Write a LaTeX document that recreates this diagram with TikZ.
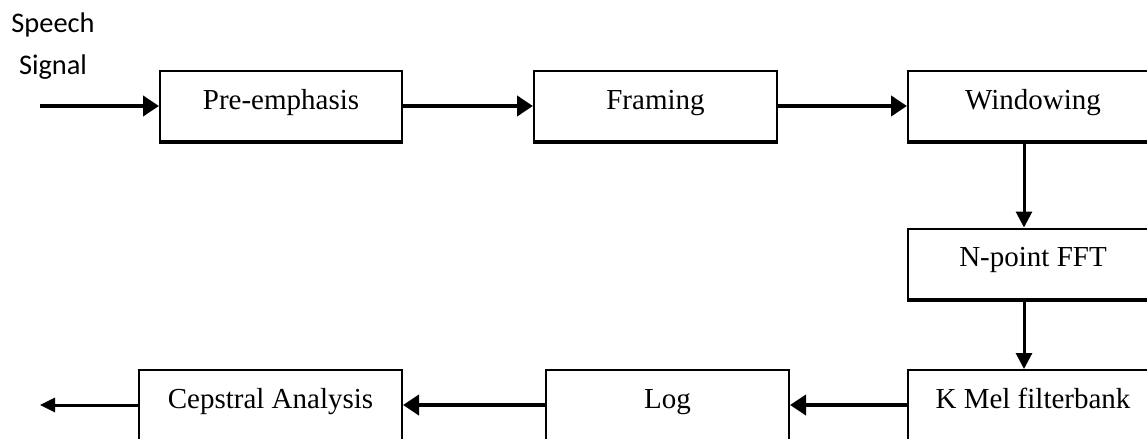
\documentclass[tikz,border=0pt]{standalone}
\usepackage{fontspec}
\setmainfont{Liberation Serif}
\newfontfamily\labelfont{Carlito}
\usetikzlibrary{arrows.meta}

\tikzset{
  block/.style={draw, line width=1pt, minimum height=35pt, inner sep=0pt,
    text height=10pt, text depth=7pt, font=\fontsize{14.5}{17}\selectfont},
  thickarrow/.style={line width=2.3pt, -{Triangle[length=8pt,width=10pt]}},
  thinarrow/.style={line width=1.5pt, -{Triangle[length=8pt,width=8pt]}}
}

\begin{document}
\begin{tikzpicture}[x=0.5pt, y=-0.5pt]
        \useasboundingbox (0,0) rectangle (1147,439);
        \clip (0,0) rectangle (1147,439);

        % Input label
        \node[font=\labelfont\fontsize{14.2}{17}\selectfont] (speech) at (53,25) {Speech};
        \node[font=\labelfont\fontsize{14.2}{17}\selectfont] (signal) at (53,67) {Signal};

        % Blocks, top row
        \node[block, minimum width=121pt] (pre) at (281,106) {Pre-emphasis};
        \node[block, minimum width=121.5pt] (frame) at (655.5,106) {Framing};
        \node[block, minimum width=125pt] (win) at (1033,106) {Windowing};

        % Blocks, right column and bottom row
        \node[block, minimum width=125pt] (fft) at (1033,263.5) {N-point FFT};
        \node[block, minimum width=125pt] (mel) at (1033,405) {K Mel filterbank};
        \node[block, minimum width=121.5pt] (log) at (667.5,405) {Log};
        \node[block, minimum width=131.5pt] (cep) at (270.5,405) {Cepstral Analysis};

        % Heavy bottom edges
        \foreach \b in {pre,frame,win,fft}
          \draw[line width=2pt] (\b.south west) -- (\b.south east);

        % Free ends
        \coordinate (in) at (40,106);
        \coordinate (out) at (40,405);

        % Arrows
        \draw[thickarrow] (in) -- (pre.west);
        \draw[thickarrow] (pre.east) -- (frame.west);
        \draw[thickarrow] (frame.east) -- (win.west);
        \draw[thinarrow] ([xshift=-4.5pt]win.south) -- ([xshift=-4.5pt]fft.north);
        \draw[thinarrow] ([xshift=-4.5pt]fft.south) -- ([xshift=-4.5pt]mel.north);
        \draw[thickarrow] (mel.west) -- (log.east);
        \draw[thickarrow] (log.west) -- (cep.east);
        \draw[line width=1.5pt, -{Triangle[length=7.5pt,width=7pt]}] (cep.west) -- (out);
    \end{tikzpicture}
\end{document}
